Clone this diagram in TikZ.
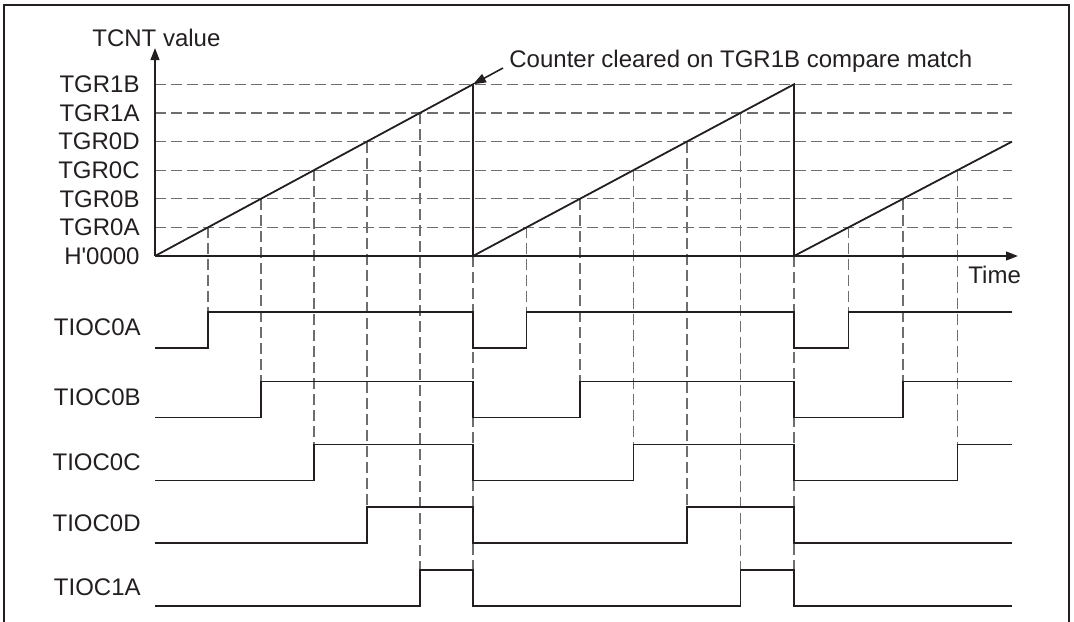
\documentclass[tikz,border=0pt]{standalone}
\usepackage{fontspec}
\setmainfont{Liberation Sans}
\usetikzlibrary{arrows.meta,calc}
\definecolor{ink}{HTML}{231F20}
\definecolor{dashgray}{HTML}{6E6E6E}
\tikzset{
  lbl/.style={font=\fontsize{12}{14}\selectfont, text=ink, inner sep=0pt},
  grid/.style={draw=dashgray, line width=0.6pt, dash pattern=on 5.5pt off 2.5pt},
  sig/.style={draw=ink, line width=0.9pt},
  axis/.style={draw=ink, line width=0.9pt, -{Triangle[length=6pt,width=4.4pt]}},
}
\begin{document}
\begin{tikzpicture}[x=0.5pt,y=-0.5pt]
\useasboundingbox (0,0) rectangle (1074,621);
% frame
\draw[ink, line width=1.4pt] (4,630) -- (4,5) -- (1069,5) -- (1069,630);

% levels
\def\lev{28.617}
% horizontal dashed level lines and labels
\foreach \k/\t in {0/{H\textquotesingle0000},1/TGR0A,2/TGR0B,3/TGR0C,4/TGR0D,5/TGR1A,6/TGR1B}{
  \pgfmathsetmacro\yy{256-\k*\lev}
  \ifnum\k>0
    \draw[grid] (155,\yy) -- (1012,\yy);
  \fi
  \node[lbl, anchor=east] (lev\k) at (140,\yy) {\t};
}

% vertical dashed guides
\foreach \i/\yh in {1/312,2/381.5,3/444.5,4/507,5/570}{
  \pgfmathsetmacro\yy{256-\i*\lev}
  \pgfmathsetmacro\xa{155+\i*53}
  \pgfmathsetmacro\xb{473+\i*53.5}
  \draw[grid] (\xa,\yy) -- (\xa,\yh);
  \draw[grid] (\xb,\yy) -- (\xb,\yh);
  \ifnum\i<4
    \pgfmathsetmacro\xc{794+\i*54.5}
    \draw[grid] (\xc,\yy) -- (\xc,\yh);
  \fi
}
\draw[grid] (473,256) -- (473,606);
\draw[grid] (794,256) -- (794,606);

% counter waveform
\coordinate (o) at (155,256);
\coordinate (p1) at (473,84.3);
\coordinate (z1) at (473,256);
\coordinate (p2) at (794,84.3);
\coordinate (z2) at (794,256);
\coordinate (e3) at (1012,141.6);
\draw[sig] (o) -- (p1) -- (z1) -- (p2) -- (z2) -- (e3);

% axes
\coordinate (ytop) at (155,48);
\coordinate (xend) at (1018,256);
\draw[axis] (o) -- (ytop);
\draw[axis] (o) -- (xend);
\node[lbl, anchor=west] (tcnt) at (92,38) {TCNT value};
\node[lbl, anchor=west] (time) at (968,275) {Time};

% annotation
\node[lbl, anchor=west] (note) at (509,61) {Counter cleared on TGR1B compare match};
\coordinate (noteA) at (503,68);
\draw[ink, line width=0.8pt, -{Triangle[length=6.5pt,width=4.6pt]}] (noteA) -- (p1);

% output signals
\foreach \i/\yh/\yl/\ym/\t in {1/312/348/327/TIOC0A,2/381.5/417.5/397/TIOC0B,3/444.5/480.5/462/TIOC0C,4/507/543/523/TIOC0D,5/570/606/587/TIOC1A}{
  \pgfmathsetmacro\xa{155+\i*53}
  \pgfmathsetmacro\xb{473+\i*53.5}
  \node[lbl, anchor=east] (s\i) at (141,\ym) {\t};
  \ifnum\i<4
    \pgfmathsetmacro\xc{794+\i*54.5}
    \draw[sig] (155,\yl) -- (\xa,\yl) -- (\xa,\yh) -- (473,\yh) -- (473,\yl) -- (\xb,\yl) -- (\xb,\yh) -- (794,\yh) -- (794,\yl) -- (\xc,\yl) -- (\xc,\yh) -- (1012,\yh);
  \else
    \draw[sig] (155,\yl) -- (\xa,\yl) -- (\xa,\yh) -- (473,\yh) -- (473,\yl) -- (\xb,\yl) -- (\xb,\yh) -- (794,\yh) -- (794,\yl) -- (1012,\yl);
  \fi
}
\end{tikzpicture}
\end{document}
